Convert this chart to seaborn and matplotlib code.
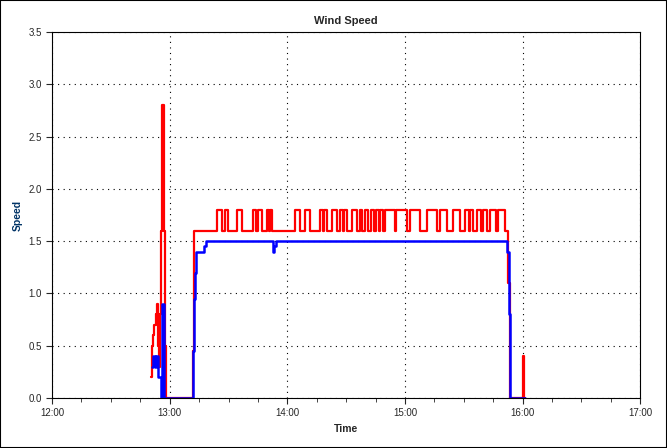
import pandas as pd
import matplotlib
matplotlib.use("Agg")
import matplotlib.pyplot as plt
import seaborn as sns

# minutes after 12:00
early_red_t = [50.3, 51.0, 51.6, 52.2, 52.8, 53.4, 54.0, 54.6, 55.3, 55.8, 56.0, 57.0, 57.4, 57.9, 58.3]
early_red_v = [0.2, 0.5, 0.6, 0.7, 0.8, 0.9, 0.5, 0.3, 0.8, 1.6, 2.8, 1.6, 0.5, 0.45, 0.0]
early_blue_t = [50.8, 51.5, 52.5, 53.2, 54.0, 55.5, 56.2, 57.3, 58.0]
early_blue_v = [0.3, 0.4, 0.3, 0.4, 0.2, 0.0, 0.9, 0.0, 0.0]

rise_red_t = [71.8, 72.3]
rise_red_v = [0.45, 1.6]
rise_blue_t = [72.0, 72.5, 73.0, 73.6, 75.8, 77.5, 78.5]
rise_blue_v = [0.45, 0.95, 1.2, 1.4, 1.4, 1.45, 1.5]

# intervals where red sits at 1.8 instead of 1.6
red_high = [(84.0, 86.5), (88.2, 89.9), (94.2, 96.7), (102.7, 104.2), (105.0, 106.9),
            (109.8, 110.8), (111.3, 112.0), (123.9, 126.5), (129.0, 131.6), (136.7, 138.2),
            (138.8, 140.1), (142.6, 145.2), (146.9, 148.3), (149.0, 150.3), (152.8, 155.4),
            (157.0, 158.0), (159.5, 161.0), (162.5, 164.0), (165.0, 166.5), (167.5, 169.0),
            (170.0, 175.0), (175.6, 180.9), (182.6, 187.7), (191.1, 196.2), (197.9, 201.3),
            (204.7, 208.1), (210.6, 212.5), (213.2, 214.9), (216.6, 219.0), (219.7, 221.7),
            (223.4, 226.5), (227.2, 231.0)]
red_fall_t = [232.7, 233.4, 240.0, 240.5, 241.0]
red_fall_v = [1.1, 0.0, 0.4, 0.0, 0.0]

blue_dip_t = [112.5, 113.3, 114.0]
blue_dip_v = [1.4, 1.45, 1.5]
blue_fall_t = [232.2, 232.8, 233.6, 241.0]
blue_fall_v = [1.4, 0.8, 0.0, 0.0]

red_t = early_red_t + rise_red_t
red_v = early_red_v + rise_red_v
for a, b in red_high:
    red_t += [a, b]
    red_v += [1.8, 1.6]
red_t += red_fall_t
red_v += red_fall_v

blue_t = early_blue_t + rise_blue_t + blue_dip_t + blue_fall_t
blue_v = early_blue_v + rise_blue_v + blue_dip_v + blue_fall_v

red = pd.DataFrame({"t": red_t, "v": red_v})
blue = pd.DataFrame({"t": blue_t, "v": blue_v})

sns.set_style("white")
plt.rcParams["font.family"] = ["Liberation Sans", "DejaVu Sans"]

fig = plt.figure(figsize=(6.67, 4.48), dpi=100)
ax = fig.add_axes([0.078, 0.1116, 0.882, 0.817])
sns.lineplot(data=red, x="t", y="v", ax=ax, color="#ff0000", lw=1.6,
             drawstyle="steps-post", estimator=None, sort=False)
sns.lineplot(data=blue, x="t", y="v", ax=ax, color="#0000ff", lw=1.8,
             drawstyle="steps-post", estimator=None, sort=False)

ax.set_xlim(0, 300)
ax.set_ylim(0, 3.5)
ax.set_xticks(range(0, 301, 60))
ax.set_xticklabels(["12:00", "13:00", "14:00", "15:00", "16:00", "17:00"])
ax.set_xticks(range(0, 301, 15), minor=True)
ax.set_yticks([i * 0.5 for i in range(8)])
ax.set_yticklabels([f"{i * 0.5:.1f}" for i in range(8)])
ax.tick_params(axis="both", which="both", direction="out", labelsize=7, length=4,
               bottom=True, left=True)
ax.tick_params(which="minor", length=3)
ax.grid(True, color="black", linestyle=(0, (1, 4)), linewidth=0.8)
for s in ax.spines.values():
    s.set_color("black")
    s.set_linewidth(0.8)
ax.set_title("Wind Speed", fontsize=8, fontweight="bold")
ax.set_xlabel("Time", fontsize=7.5, fontweight="bold")
ax.set_ylabel("Speed", fontsize=7.5, fontweight="bold", color="#003366")
fig.patches.append(plt.Rectangle((0, 0), 1, 1, transform=fig.transFigure,
                                 fill=False, edgecolor="black", lw=1.5))
fig.savefig("out.png", dpi=100)
